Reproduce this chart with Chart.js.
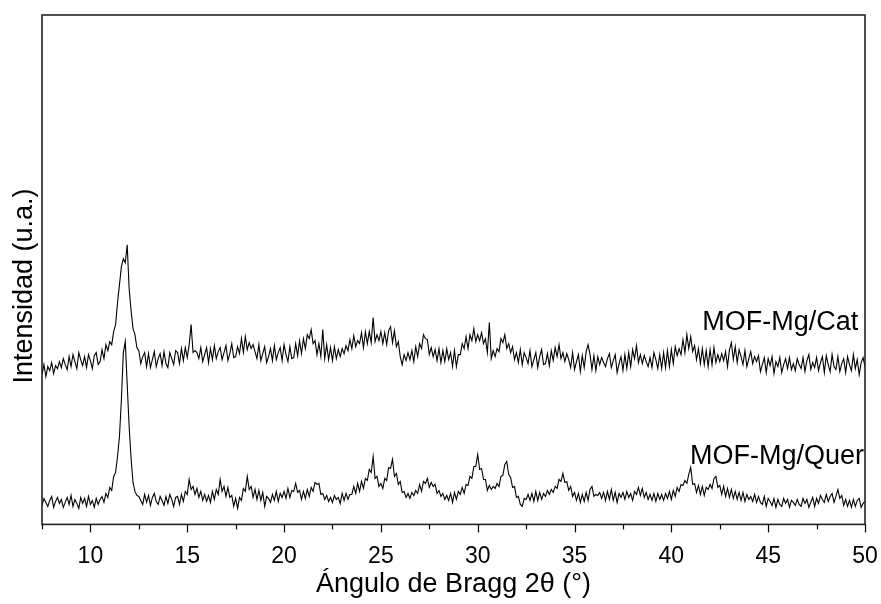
<!DOCTYPE html>
<html>
<head>
<meta charset="utf-8">
<script src="https://cdn.jsdelivr.net/npm/chart.js@4/dist/chart.umd.min.js"></script>
<style>
html,body{margin:0;padding:0;background:#fff;}
#wrap{width:881px;height:604px;}
</style>
</head>
<body>
<div id="wrap"><canvas id="c" width="881" height="604"></canvas></div>
<script>
// Sampling grid of the diffraction scans (2θ, degrees)
const angleStart = 7.5;
const angleStep = 0.1;

// MOF-Mg/Quer intensities (arbitrary units), 7.5° .. 50.0°
const querIntensity = [
19,26,22,18,24,28,17,23,27,21,
25,17,22,27,20,29,18,25,21,16,
27,21,26,18,28,20,24,17,26,20,
25,28,22,31,27,37,34,48,52,68,
88,125,172,183,140,98,66,42,33,29,
28,24,20,30,22,29,19,27,31,23,
20,28,24,19,28,21,30,25,18,27,
28,20,30,23,33,30,45,35,38,30,
36,27,33,24,30,23,29,22,33,25,
35,30,45,33,38,28,37,27,29,18,
26,16,27,24,36,33,48,35,38,27,
35,25,34,24,32,18,28,26,22,30,
24,33,23,31,27,33,26,36,27,34,
33,41,32,34,25,33,26,35,28,37,
33,42,40,41,30,31,25,29,23,27,
22,29,25,27,21,31,24,31,25,30,
30,38,31,41,33,43,36,46,44,55,
52,68,46,48,38,41,36,46,44,57,
56,65,48,51,40,43,32,33,27,31,
26,32,29,34,31,40,33,43,41,46,
37,42,38,40,31,34,28,31,25,29,
24,31,22,32,25,33,30,37,31,40,
39,48,46,58,58,70,55,56,45,45,
34,39,35,38,36,41,38,48,49,60,
63,50,47,37,38,27,28,20,18,26,
25,30,24,31,23,33,24,32,25,31,
28,34,30,35,32,38,36,45,43,51,
42,43,34,38,28,32,24,31,22,30,
23,32,24,35,38,28,30,29,32,26,
32,24,33,25,35,24,32,22,31,27,
32,25,33,27,31,24,33,30,37,29,
36,27,32,25,30,24,31,23,31,25,
30,24,31,26,33,25,34,28,37,33,
40,39,44,41,50,57,40,41,32,39,
30,38,29,37,35,40,36,46,48,37,
39,30,38,28,36,27,35,26,33,25,
32,24,32,23,30,25,28,23,30,22,
28,22,20,28,18,26,23,19,26,17,
25,20,18,26,21,25,17,24,22,19,
25,20,18,26,21,25,17,22,27,18,
26,21,29,25,22,30,23,28,31,22,
28,35,26,29,19,25,18,24,17,25,
18,24,26,17,21,23
];

// MOF-Mg/Cat intensities (arbitrary units, offset trace), 7.5° .. 50.0°
const catIntensity = [
150,160,148,158,154,162,151,159,156,163,
157,166,160,155,168,158,170,163,156,172,
165,159,168,157,170,164,156,169,172,160,
163,175,166,180,174,183,180,193,200,222,
240,258,266,262,280,236,214,196,190,177,
174,161,168,172,158,171,157,165,173,158,
166,171,159,173,161,157,172,166,160,174,
172,161,176,164,177,167,180,200,172,174,
172,166,177,163,170,177,162,176,165,179,
166,173,177,165,172,179,164,171,181,167,
168,178,171,186,172,188,175,182,176,180,
173,166,180,164,171,178,162,168,176,164,
179,165,172,177,164,180,170,163,178,166,
167,181,169,184,171,186,176,190,186,195,
181,184,170,181,168,195,166,180,165,177,
164,178,166,175,168,176,171,179,174,185,
176,189,178,184,181,192,177,193,181,193,
182,207,183,190,184,193,181,192,180,194,
198,182,194,178,183,168,160,170,164,172,
165,174,163,178,168,181,176,190,186,185,
170,177,168,175,164,176,162,174,163,176,
165,172,158,174,158,170,170,181,176,188,
176,190,184,196,183,190,184,192,181,186,
172,202,166,174,168,176,173,186,182,190,
176,181,172,178,165,172,162,175,160,172,
167,161,174,158,165,172,157,168,175,160,
161,171,159,174,164,177,168,180,166,172,
163,171,165,157,172,155,163,170,153,169,
157,173,180,170,155,169,154,168,160,167,
162,158,166,171,157,164,170,152,161,168,
154,170,156,172,158,175,166,179,162,170,
161,169,163,158,167,157,172,165,156,170,
156,172,157,174,158,175,161,178,169,176,
170,185,172,190,176,188,173,179,165,176,
161,176,160,174,158,175,160,177,162,170,
163,171,164,173,158,175,182,165,178,162,
175,168,160,174,158,166,173,161,168,163,
169,153,160,167,152,166,159,168,151,163,
158,167,152,160,166,156,167,155,161,154,
166,160,156,167,153,164,170,155,162,157,
167,154,162,168,152,169,160,153,170,158,
155,168,153,161,166,152,168,160,154,170,
156,165,150,162,167,158
];

// Axis ticks
const majorTicks = [10, 15, 20, 25, 30, 35, 40, 45, 50];
const minorTicks = [7.5, 12.5, 17.5, 22.5, 27.5, 32.5, 37.5, 42.5, 47.5];

// Titles
const xTitle = 'Ángulo de Bragg 2θ (°)';
const yTitle = 'Intensidad (u.a.)';

// Series labels and their anchor points (data coordinates: 2θ, intensity)
const seriesNames = ['MOF-Mg/Cat', 'MOF-Mg/Quer'];
const labelAngles = [49.65, 49.95];
const labelIntensities = [195, 60];

const FONT = '"Liberation Sans", Arial, sans-serif';

function toPoints(values) {
  return values.map((v, i) => ({ x: +(angleStart + i * angleStep).toFixed(2), y: v }));
}

const frameAndLabels = {
  id: 'frameAndLabels',
  afterDatasetsDraw(chart) {
    const { ctx, chartArea: a, scales } = chart;
    const xs = scales.x, ys = scales.y;
    ctx.save();
    // frame
    ctx.strokeStyle = '#222';
    ctx.lineWidth = 1.6;
    ctx.strokeRect(a.left, a.top, a.right - a.left, a.bottom - a.top);
    // tick marks (outward)
    ctx.strokeStyle = '#000';
    ctx.lineWidth = 1.2;
    majorTicks.forEach(t => {
      const px = Math.round(xs.getPixelForValue(t)) + 0.5;
      ctx.beginPath(); ctx.moveTo(px, a.bottom); ctx.lineTo(px, a.bottom + 8); ctx.stroke();
    });
    minorTicks.forEach(t => {
      const px = Math.round(xs.getPixelForValue(t)) + 0.5;
      ctx.beginPath(); ctx.moveTo(px, a.bottom); ctx.lineTo(px, a.bottom + 5); ctx.stroke();
    });
    ctx.fillStyle = '#000';
    // x axis title
    ctx.font = '27px ' + FONT;
    ctx.textAlign = 'center';
    ctx.textBaseline = 'middle';
    ctx.fillText(xTitle, (a.left + a.right) / 2, 585);
    // series labels
    ctx.textAlign = 'right';
    ctx.textBaseline = 'alphabetic';
    seriesNames.forEach((n, i) => {
      ctx.fillText(n, xs.getPixelForValue(labelAngles[i]), ys.getPixelForValue(labelIntensities[i]));
    });
    // y axis title
    ctx.translate(25, 286);
    ctx.rotate(-Math.PI / 2);
    ctx.textAlign = 'center';
    ctx.textBaseline = 'middle';
    ctx.fillText(yTitle, 0, 0);
    ctx.restore();
  }
};

new Chart(document.getElementById('c'), {
  type: 'line',
  data: {
    datasets: [
      { label: seriesNames[0], data: toPoints(catIntensity), borderColor: '#000', borderWidth: 1.1, pointRadius: 0, tension: 0, fill: false },
      { label: seriesNames[1], data: toPoints(querIntensity), borderColor: '#000', borderWidth: 1.1, pointRadius: 0, tension: 0, fill: false }
    ]
  },
  options: {
    responsive: false,
    animation: false,
    devicePixelRatio: 1,
    layout: { padding: { left: 42, top: 15, right: 16, bottom: 16 } },
    plugins: { legend: { display: false }, tooltip: { enabled: false } },
    scales: {
      x: {
        type: 'linear',
        min: 7.5,
        max: 50,
        afterBuildTicks: (s) => { s.ticks = majorTicks.map(v => ({ value: v })); },
        afterFit: (s) => { s.paddingLeft = 0; s.paddingRight = 0; },
        grid: { display: false, drawTicks: false },
        border: { display: false },
        ticks: { color: '#000', padding: 18, maxRotation: 0, autoSkip: false,
                 font: { family: FONT, size: 23 } },
        title: { display: false }
      },
      y: { display: false, min: 0, max: 510 }
    }
  },
  plugins: [frameAndLabels]
});
</script>
</body>
</html>
